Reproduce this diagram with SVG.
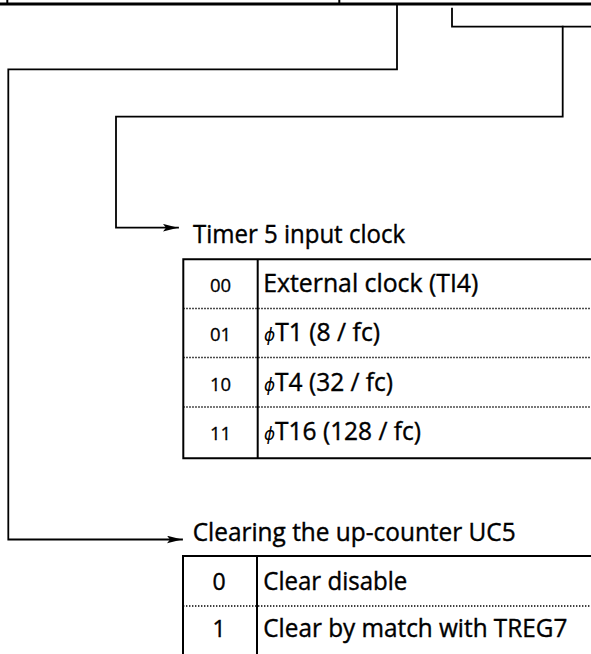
<svg xmlns="http://www.w3.org/2000/svg" width="591" height="654" viewBox="0 0 591 654">
<style>
.ln{fill:none;stroke:#000;stroke-width:1.8;stroke-linejoin:miter;stroke-linecap:square}
.bx{fill:none;stroke:#000;stroke-width:2}
.dot{fill:none;stroke:#000;stroke-width:1.6;stroke-dasharray:1.4 1.6}
.t{font-family:"Open Sans","Noto Sans","Liberation Sans",sans-serif;font-size:25.5px;fill:#000;stroke:#000;stroke-width:0.4}
.c{font-family:"Open Sans","Noto Sans","Liberation Sans",sans-serif;font-size:18.5px;fill:#000;text-anchor:middle;stroke:#000;stroke-width:0.3}
.c2{font-family:"Open Sans","Noto Sans","Liberation Sans",sans-serif;font-size:23px;fill:#000;text-anchor:middle;stroke:#000;stroke-width:0.4}
.phi{font-family:"DejaVu Sans","Noto Sans",sans-serif;font-size:17.5px;font-style:italic;stroke-width:0}
</style>
<defs>
<marker id="ah" markerWidth="16" markerHeight="8" refX="15" refY="3.8" orient="auto" markerUnits="userSpaceOnUse">
<path d="M0,0 L15,3.8 L0,7.6 L3,3.8 z" fill="#000"/>
</marker>
</defs>
<g id="register">
<line x1="0" y1="4" x2="591" y2="4" stroke="#000" stroke-width="3"/>
<line x1="7.3" y1="0" x2="7.3" y2="4" stroke="#000" stroke-width="2"/>
<line x1="339.3" y1="0" x2="339.3" y2="4" stroke="#000" stroke-width="2"/>
</g>
<g id="connectors">
<polyline class="ln" points="397,5 397,69.3 8.3,69.3 8.3,539.5 182,539.5" marker-end="url(#ah)"/>
<polyline class="ln" points="452,8.7 452,26.7 591,26.7"/>
<polyline class="ln" points="562.7,26.7 562.7,116.7 116,116.7 116,227.7 178,227.7" marker-end="url(#ah)"/>
</g>
<g id="timer5-clock">
<text class="t" x="193" y="242.5" textLength="212" lengthAdjust="spacingAndGlyphs">Timer 5 input clock</text>
<path class="bx" d="M591,259.3 H183.3 V458.3 H591 M257.7,259.3 V458.3"/>
<line class="dot" x1="183.3" y1="308.5" x2="591" y2="308.5"/>
<line class="dot" x1="183.3" y1="357.5" x2="591" y2="357.5"/>
<line class="dot" x1="183.3" y1="407" x2="591" y2="407"/>
<text class="c" x="220.5" y="291.7">00</text>
<text class="c" x="220.5" y="341.2">01</text>
<text class="c" x="220.5" y="390.5">10</text>
<text class="c" x="220.5" y="440">11</text>
<text class="t" x="263.3" y="291.7" textLength="215" lengthAdjust="spacingAndGlyphs">External clock (TI4)</text>
<text class="t" x="264" y="341.2" textLength="116" lengthAdjust="spacingAndGlyphs"><tspan class="phi">ϕ</tspan>T1 (8 / fc)</text>
<text class="t" x="264" y="390.5" textLength="129" lengthAdjust="spacingAndGlyphs"><tspan class="phi">ϕ</tspan>T4 (32 / fc)</text>
<text class="t" x="264" y="440" textLength="157" lengthAdjust="spacingAndGlyphs"><tspan class="phi">ϕ</tspan>T16 (128 / fc)</text>
</g>
<g id="uc5-clear">
<text class="t" x="192.7" y="540.5" textLength="323" lengthAdjust="spacingAndGlyphs">Clearing the up-counter UC5</text>
<path class="bx" d="M591,556 H183 V654 M257,556 V654"/>
<line class="dot" x1="183" y1="606" x2="591" y2="606"/>
<text class="c2" x="219" y="590">0</text>
<text class="c2" x="219" y="637.3">1</text>
<text class="t" x="263.3" y="590" textLength="144" lengthAdjust="spacingAndGlyphs">Clear disable</text>
<text class="t" x="263.3" y="637" textLength="304" lengthAdjust="spacingAndGlyphs">Clear by match with TREG7</text>
</g>
</svg>
